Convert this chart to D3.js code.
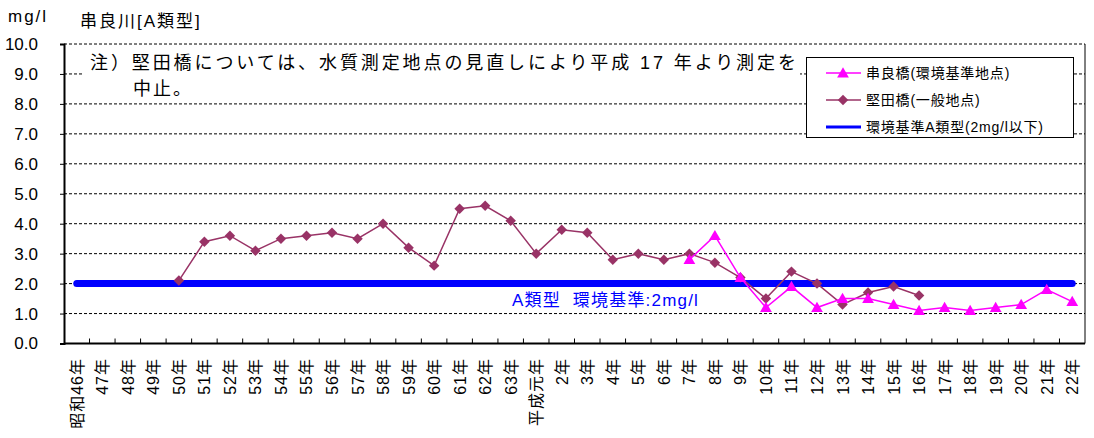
<!DOCTYPE html>
<html>
<head>
<meta charset="utf-8">
<script src="https://cdn.jsdelivr.net/npm/d3@7"></script>
<style>
  body { margin: 0; background: #fff; }
  svg { font-family: "Liberation Sans", "Noto Sans CJK JP", sans-serif; }
</style>
</head>
<body>
<svg id="chart" width="1094" height="438"></svg>
<script>
let categories = ["昭和46年", "47年", "48年", "49年", "50年", "51年", "52年", "53年", "54年", "55年",
  "56年", "57年", "58年", "59年", "60年", "61年", "62年", "63年", "平成元年", "2年",
  "3年", "4年", "5年", "6年", "7年", "8年", "9年", "10年", "11年", "12年",
  "13年", "14年", "15年", "16年", "17年", "18年", "19年", "20年", "21年", "22年"];

// 串良橋（環境基準地点）
let kushira = [null, null, null, null, null, null, null, null, null, null,
  null, null, null, null, null, null, null, null, null, null,
  null, null, null, null, 2.8, 3.6, 2.2, 1.2, 1.9, 1.2,
  1.5, 1.5, 1.3, 1.1, 1.2, 1.1, 1.2, 1.3, 1.8, 1.4];

// 堅田橋（一般地点）
let katada = [null, null, null, null, 2.1, 3.4, 3.6, 3.1, 3.5, 3.6,
  3.7, 3.5, 4.0, 3.2, 2.6, 4.5, 4.6, 4.1, 3.0, 3.8,
  3.7, 2.8, 3.0, 2.8, 3.0, 2.7, 2.2, 1.5, 2.4, 2.0,
  1.3, 1.7, 1.9, 1.6, null, null, null, null, null, null];

// 環境基準A類型(2mg/l以下)
let standard = [2, 2, 2, 2, 2, 2, 2, 2, 2, 2,
  2, 2, 2, 2, 2, 2, 2, 2, 2, 2,
  2, 2, 2, 2, 2, 2, 2, 2, 2, 2,
  2, 2, 2, 2, 2, 2, 2, 2, 2, 2];

let yTicks = [0, 1, 2, 3, 4, 5, 6, 7, 8, 9, 10];

let legendNames = ["串良橋(環境基準地点)", "堅田橋(一般地点)", "環境基準A類型(2mg/l以下)"];

let plotLeft = 64, plotRight = 1085, plotTop = 44, plotBottom = 343.5;
let svg = d3.select("#chart");

let x = d3.scaleBand().domain(categories).range([plotLeft, plotRight]);
let y = d3.scaleLinear().domain([0, 10]).range([plotBottom, plotTop]);
let cx = function(i) { return x(categories[i]) + x.bandwidth() / 2; };

// gridlines
svg.append("g").selectAll("line").data(yTicks.filter(d => d > 0)).join("line")
  .attr("x1", plotLeft).attr("x2", plotRight)
  .attr("y1", d => y(d)).attr("y2", d => y(d))
  .attr("stroke", "#000").attr("stroke-width", 1)
  .attr("stroke-dasharray", "3,2");

// right border
svg.append("line").attr("x1", plotRight).attr("x2", plotRight).attr("y1", plotTop).attr("y2", plotBottom)
  .attr("stroke", "#000").attr("stroke-width", 1);

// y axis
let yAxis = svg.append("g").attr("transform", "translate(" + plotLeft + ",0)")
  .call(d3.axisLeft(y).tickValues(yTicks).tickFormat(d3.format(".1f")).tickSize(4));
yAxis.select(".domain").attr("stroke-width", 2);
yAxis.selectAll("text").attr("font-size", 17).attr("fill", "#000").attr("text-anchor", "end")
  .attr("x", -26);

// x axis: ticks at band boundaries, pointing inward
let xg = svg.append("g");
xg.append("line").attr("x1", plotLeft).attr("x2", plotRight).attr("y1", plotBottom).attr("y2", plotBottom)
  .attr("stroke", "#000").attr("stroke-width", 2);
xg.selectAll(".tk").data(categories.slice(1)).join("line").attr("class", "tk")
  .attr("x1", d => x(d)).attr("x2", d => x(d))
  .attr("y1", plotBottom).attr("y2", plotBottom - 5)
  .attr("stroke", "#000").attr("stroke-width", 1);
xg.selectAll("text").data(categories).join("text")
  .attr("transform", (d, i) => "translate(" + (cx(i) + 6) + ",358) rotate(-90)")
  .attr("text-anchor", "end")
  .attr("font-size", 16)
  .attr("letter-spacing", 1)
  .text(d => d);

// annotation box
svg.append("rect").attr("x", 84).attr("y", 45).attr("width", 716).attr("height", 57).attr("fill", "#fff");
svg.append("text").attr("x", 90).attr("y", 69).attr("font-size", 18)
  .attr("letter-spacing", 2.9)
  .text("注）堅田橋については、水質測定地点の見直しにより平成 17 年より測定を");
svg.append("text").attr("x", 133).attr("y", 95).attr("font-size", 18)
  .attr("letter-spacing", 2).text("中止。");

// titles
svg.append("text").attr("x", 8).attr("y", 22).attr("font-size", 17).attr("letter-spacing", 2).text("mg/l");
svg.append("text").attr("x", 80).attr("y", 27).attr("font-size", 17).attr("letter-spacing", 2).text("串良川[A類型]");

// standard line
let line = d3.line().defined(d => d != null).x((d, i) => cx(i)).y(d => y(d));
svg.append("path").attr("d", line(standard))
  .attr("fill", "none").attr("stroke", "#0000ff").attr("stroke-width", 7)
  .attr("stroke-linecap", "round");

svg.append("text").attr("x", 512).attr("y", 306).attr("font-size", 17).attr("fill", "#0000ff")
  .attr("letter-spacing", 1.2)
  .attr("xml:space", "preserve").text("A類型  環境基準:2mg/l");

let diamond = d3.symbol().type(d3.symbolDiamond2).size(70);
let triangle = d3.symbol().type(d3.symbolTriangle).size(60);

// 堅田橋
svg.append("path").attr("d", line(katada))
  .attr("fill", "none").attr("stroke", "#993366").attr("stroke-width", 1.5);
svg.append("g").selectAll("path").data(katada.map((v, i) => ({v, i})).filter(d => d.v != null)).join("path")
  .attr("transform", d => "translate(" + cx(d.i) + "," + y(d.v) + ")")
  .attr("d", diamond).attr("fill", "#993366");

// 串良橋
svg.append("path").attr("d", line(kushira))
  .attr("fill", "none").attr("stroke", "#ff00ff").attr("stroke-width", 1.5);
svg.append("g").selectAll("path").data(kushira.map((v, i) => ({v, i})).filter(d => d.v != null)).join("path")
  .attr("transform", d => "translate(" + cx(d.i) + "," + (y(d.v) + 1) + ")")
  .attr("d", triangle).attr("fill", "#ff00ff");

// legend
let lg = svg.append("g");
lg.append("rect").attr("x", 806.5).attr("y", 57.5).attr("width", 267).attr("height", 80)
  .attr("fill", "#fff").attr("stroke", "#000").attr("stroke-width", 1);
let legendY = [73, 100, 127];
let legendColors = ["#ff00ff", "#993366", "#0000ff"];
legendNames.forEach(function(name, i) {
  lg.append("line").attr("x1", 826).attr("x2", 861).attr("y1", legendY[i]).attr("y2", legendY[i])
    .attr("stroke", legendColors[i]).attr("stroke-width", i == 2 ? 3 : 1.5);
  if (i == 0) lg.append("path").attr("transform", "translate(843," + (legendY[i] + 1) + ")").attr("d", triangle).attr("fill", legendColors[i]);
  if (i == 1) lg.append("path").attr("transform", "translate(843," + legendY[i] + ")").attr("d", diamond).attr("fill", legendColors[i]);
  lg.append("text").attr("x", 866).attr("y", legendY[i] + 5).attr("font-size", 14)
    .attr("letter-spacing", 0.8).text(name);
});
</script>
</body>
</html>
